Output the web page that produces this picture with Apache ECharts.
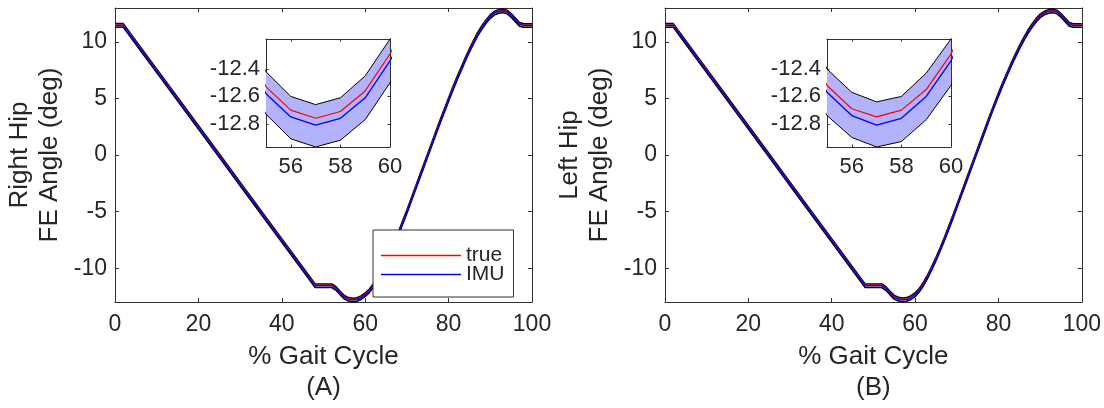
<!DOCTYPE html>
<html>
<head>
<meta charset="utf-8">
<script src="https://cdn.jsdelivr.net/npm/echarts@6/dist/echarts.min.js"></script>
<style>
html,body{margin:0;padding:0;background:#fff;}
#chart{width:1104px;height:408px;}
</style>
</head>
<body>
<div id="chart"></div>
<script>
// ---- data ----
const gaitPct = [0,2,6,10,15,20,25,30,35,40,45,48,50,52,53,54,55,56,57,58,59,60,61,62,63,64,65,66,67,68,69,70,71,72,73,74,75,76,77,78,79,80,81,82,83,84,85,86,87,88,89,90,91,92,93,94,95,96,97,98,99,100];

// Panel A: Right Hip
const rightTrue  = [11.50,11.50,9.50,7.50,5.00,2.50,0.00,-2.50,-5.00,-7.50,-10.00,-11.50,-11.50,-11.50,-11.75,-12.15,-12.53,-12.70,-12.76,-12.71,-12.56,-12.29,-11.95,-11.45,-10.85,-10.15,-9.40,-8.60,-7.75,-6.85,-5.90,-4.95,-3.95,-2.95,-1.95,-0.95,0.05,1.05,2.05,3.05,4.00,4.95,5.90,6.80,7.65,8.50,9.30,10.05,10.75,11.35,11.85,12.30,12.60,12.75,12.80,12.70,12.40,12.00,11.60,11.50,11.50,11.50];
const rightImu   = [11.46,11.46,9.45,7.44,4.95,2.45,-0.05,-2.55,-5.05,-7.55,-10.05,-11.55,-11.55,-11.55,-11.80,-12.20,-12.58,-12.75,-12.81,-12.76,-12.61,-12.34,-12.00,-11.50,-10.90,-10.20,-9.45,-8.65,-7.80,-6.90,-5.95,-5.00,-4.00,-3.00,-2.00,-1.00,0.00,1.00,2.00,3.00,3.95,4.90,5.85,6.75,7.60,8.45,9.25,10.00,10.70,11.30,11.80,12.25,12.55,12.70,12.75,12.65,12.35,11.95,11.55,11.46,11.46,11.46];
const rightUpper = [11.62,11.62,9.61,7.61,5.11,2.61,0.11,-2.39,-4.89,-7.39,-9.89,-11.39,-11.39,-11.39,-11.64,-12.04,-12.42,-12.60,-12.66,-12.61,-12.45,-12.18,-11.84,-11.34,-10.74,-10.04,-9.29,-8.49,-7.64,-6.74,-5.79,-4.84,-3.84,-2.84,-1.84,-0.84,0.16,1.16,2.16,3.16,4.11,5.06,6.01,6.91,7.76,8.61,9.41,10.16,10.86,11.46,11.96,12.41,12.71,12.86,12.91,12.81,12.51,12.11,11.71,11.61,11.61,11.61];
const rightLower = [11.29,11.29,9.29,7.29,4.79,2.29,-0.21,-2.71,-5.21,-7.71,-10.21,-11.71,-11.71,-11.71,-11.96,-12.36,-12.73,-12.91,-12.97,-12.92,-12.77,-12.50,-12.16,-11.66,-11.06,-10.36,-9.61,-8.81,-7.96,-7.06,-6.11,-5.16,-4.16,-3.16,-2.16,-1.16,-0.16,0.84,1.84,2.84,3.79,4.74,5.69,6.59,7.44,8.29,9.09,9.84,10.54,11.14,11.64,12.09,12.39,12.54,12.59,12.49,12.19,11.79,11.39,11.29,11.29,11.29];

// Panel B: Left Hip
const leftTrue  = [11.50,11.50,9.50,7.50,5.00,2.50,0.00,-2.50,-5.00,-7.50,-10.00,-11.50,-11.50,-11.50,-11.75,-12.15,-12.52,-12.69,-12.75,-12.70,-12.55,-12.29,-11.90,-11.35,-10.70,-9.95,-9.15,-8.30,-7.40,-6.45,-5.50,-4.50,-3.50,-2.50,-1.50,-0.50,0.50,1.50,2.50,3.50,4.45,5.40,6.30,7.15,8.00,8.80,9.55,10.25,10.90,11.45,11.95,12.35,12.60,12.75,12.80,12.70,12.40,12.00,11.60,11.50,11.50,11.50];
const leftImu   = [11.46,11.46,9.45,7.44,4.95,2.45,-0.05,-2.55,-5.05,-7.55,-10.05,-11.55,-11.55,-11.55,-11.80,-12.20,-12.57,-12.74,-12.81,-12.76,-12.60,-12.34,-11.95,-11.40,-10.75,-10.00,-9.20,-8.35,-7.45,-6.50,-5.55,-4.55,-3.55,-2.55,-1.55,-0.55,0.45,1.45,2.45,3.45,4.40,5.35,6.25,7.10,7.95,8.75,9.50,10.20,10.85,11.40,11.90,12.30,12.55,12.70,12.75,12.65,12.35,11.95,11.55,11.46,11.46,11.46];
const leftUpper = [11.62,11.62,9.61,7.61,5.11,2.61,0.11,-2.39,-4.89,-7.39,-9.89,-11.39,-11.39,-11.39,-11.64,-12.04,-12.40,-12.57,-12.64,-12.60,-12.43,-12.18,-11.79,-11.24,-10.59,-9.84,-9.04,-8.19,-7.29,-6.34,-5.39,-4.39,-3.39,-2.39,-1.39,-0.39,0.61,1.61,2.61,3.61,4.56,5.51,6.41,7.26,8.11,8.91,9.66,10.36,11.01,11.56,12.06,12.46,12.71,12.86,12.91,12.81,12.51,12.11,11.71,11.61,11.61,11.61];
const leftLower = [11.29,11.29,9.29,7.29,4.79,2.29,-0.21,-2.71,-5.21,-7.71,-10.21,-11.71,-11.71,-11.71,-11.96,-12.36,-12.74,-12.90,-12.97,-12.93,-12.77,-12.52,-12.11,-11.56,-10.91,-10.16,-9.36,-8.51,-7.61,-6.66,-5.71,-4.71,-3.71,-2.71,-1.71,-0.71,0.29,1.29,2.29,3.29,4.24,5.19,6.09,6.94,7.79,8.59,9.34,10.04,10.69,11.24,11.74,12.14,12.39,12.54,12.59,12.49,12.19,11.79,11.39,11.29,11.29,11.29];

const mainXTicks  = [0,20,40,60,80,100];
const mainYTicks  = [-10,-5,0,5,10];
const insetXTicks = [56,58,60];
const insetYTicks = [-12.8,-12.6,-12.4];

// ---- chart ----
const FONT = "'Liberation Sans', Arial, Helvetica, sans-serif";
const TXT = '#262626';
const AX = '#303030';

function pairs(ys){ return gaitPct.map((x,i)=>[x, ys[i]]); }

function mkAxis(grid, pos, min, max, ticks, showLabel, tickLen, margin, fs){
  return {
    type:'value', gridIndex:grid, position:pos, min:min, max:max,
    axisLine:{show:true, onZero:false, lineStyle:{color:AX, width:1}},
    axisTick:{show:true, inside:true, length:tickLen, customValues:ticks, lineStyle:{color:AX}},
    axisLabel:{show:showLabel, customValues:ticks, margin:margin, fontSize:fs, color:TXT, fontFamily:FONT},
    splitLine:{show:false}
  };
}

function bandSeries(axIdx, up, lo, z){
  return {
    type:'custom', xAxisIndex:axIdx, yAxisIndex:axIdx, clip:true, silent:true, z:z,
    data:[[gaitPct[0], up[0]]],
    renderItem:function(params, api){
      const pts = [];
      for (let i=0;i<gaitPct.length;i++) pts.push(api.coord([gaitPct[i], up[i]]));
      for (let i=gaitPct.length-1;i>=0;i--) pts.push(api.coord([gaitPct[i], lo[i]]));
      return {type:'polygon', shape:{points:pts}, style:{fill:'#b3b3fb', stroke:null}};
    }
  };
}
function lineSeries(axIdx, name, ys, color, width, z){
  return {
    type:'line', name:name, xAxisIndex:axIdx, yAxisIndex:axIdx, data:pairs(ys),
    showSymbol:false, symbol:'none', silent:true, animation:false, z:z,
    lineStyle:{color:color, width:width}, itemStyle:{color:color}
  };
}
function panelSeries(axIdx, tr, im, up, lo, edgeW, zb){
  return [
    bandSeries(axIdx, up, lo, zb),
    lineSeries(axIdx, 'upper', up, '#000000', edgeW, zb+1),
    lineSeries(axIdx, 'lower', lo, '#000000', edgeW, zb+1),
    lineSeries(axIdx, 'true', tr, '#ff0000', 1.2, zb+2),
    lineSeries(axIdx, 'IMU', im, '#0000ff', 1.3, zb+3)
  ];
}

const grids = [
  {left:115, top:8, width:417, height:296},
  {left:665, top:8, width:417, height:296},
  {left:266, top:39, width:124, height:108, show:true, backgroundColor:'#fff', borderWidth:0},
  {left:827, top:39, width:124, height:108, show:true, backgroundColor:'#fff', borderWidth:0}
];

const nameStyleX = {fontSize:26, lineHeight:31, color:TXT, fontFamily:FONT};
const nameStyleY = {fontSize:26, lineHeight:30, color:TXT, fontFamily:FONT};

const xAxes = [
  Object.assign(mkAxis(0,'bottom',0,100,mainXTicks,true,4,11,23), {name:'% Gait Cycle\n(A)', nameLocation:'middle', nameGap:37, nameTextStyle:nameStyleX}),
  Object.assign(mkAxis(1,'bottom',0,100,mainXTicks,true,4,11,23), {name:'% Gait Cycle\n(B)', nameLocation:'middle', nameGap:37, nameTextStyle:nameStyleX}),
  mkAxis(2,'bottom',55,60,insetXTicks,true,2.5,9,22),
  mkAxis(3,'bottom',55,60,insetXTicks,true,2.5,9,22),
  mkAxis(0,'top',0,100,mainXTicks,false,4,10,23),
  mkAxis(1,'top',0,100,mainXTicks,false,4,10,23),
  mkAxis(2,'top',55,60,insetXTicks,false,2.5,9,22),
  mkAxis(3,'top',55,60,insetXTicks,false,2.5,9,22)
];
const yAxes = [
  Object.assign(mkAxis(0,'left',-13,13,mainYTicks,true,4,8,23), {name:'Right Hip\nFE Angle (deg)', nameLocation:'middle', nameRotate:90, nameGap:50, nameTextStyle:nameStyleY}),
  Object.assign(mkAxis(1,'left',-13,13,mainYTicks,true,4,8,23), {name:'Left Hip\nFE Angle (deg)', nameLocation:'middle', nameRotate:90, nameGap:50, nameTextStyle:nameStyleY}),
  mkAxis(2,'left',-12.97,-12.18,insetYTicks,true,2.5,6,22),
  mkAxis(3,'left',-12.97,-12.18,insetYTicks,true,2.5,6,22),
  mkAxis(0,'right',-13,13,mainYTicks,false,4,8,23),
  mkAxis(1,'right',-13,13,mainYTicks,false,4,8,23),
  mkAxis(2,'right',-12.97,-12.18,insetYTicks,false,2.5,6,22),
  mkAxis(3,'right',-12.97,-12.18,insetYTicks,false,2.5,6,22)
];

const series = [].concat(
  panelSeries(0, rightTrue, rightImu, rightUpper, rightLower, 1.5, 2),
  panelSeries(1, leftTrue, leftImu, leftUpper, leftLower, 1.5, 2),
  panelSeries(2, rightTrue, rightImu, rightUpper, rightLower, 1, 20),
  panelSeries(3, leftTrue, leftImu, leftUpper, leftLower, 1, 20)
);

const option = {
  animation:false,
  backgroundColor:'#ffffff',
  textStyle:{fontFamily:FONT},
  grid:grids,
  xAxis:xAxes,
  yAxis:yAxes,
  legend:{
    data:['true','IMU'], orient:'vertical', left:373, top:230, z:50,
    icon:'rect', itemWidth:80, itemHeight:1.5, itemGap:-2, selectedMode:false,
    padding:[15,9,12,8], borderColor:'#303030', borderWidth:1, backgroundColor:'#fff',
    textStyle:{fontSize:21, lineHeight:17, color:TXT, fontFamily:FONT}
  },
  series:series
};

const chart = echarts.init(document.getElementById('chart'), null, {renderer:'canvas'});
chart.setOption(option);
</script>
</body>
</html>
